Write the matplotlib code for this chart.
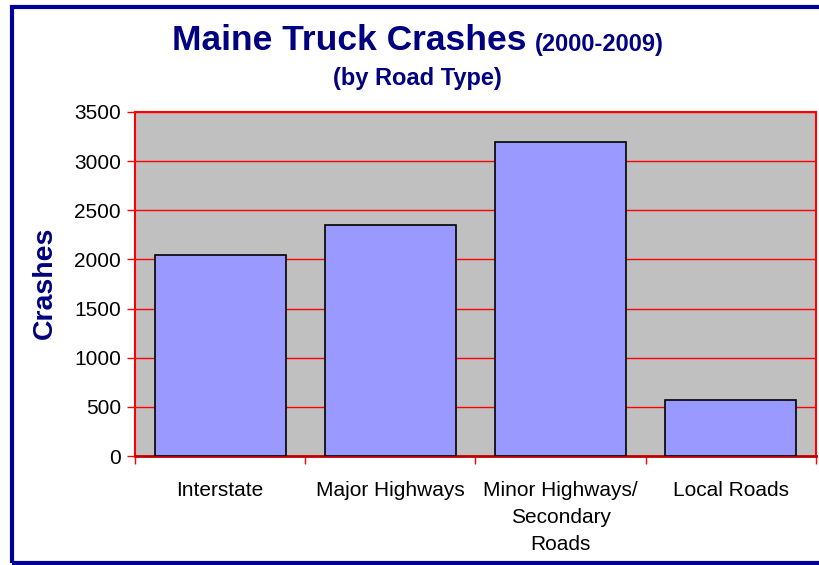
import matplotlib
matplotlib.use("Agg")
import matplotlib.pyplot as plt
from matplotlib.patches import Rectangle
import numpy as np

categories = ["Interstate", "Major Highways", "Minor Highways/\nSecondary\nRoads", "Local Roads"]
crashes = [2045, 2355, 3190, 565]
yticks = [0, 500, 1000, 1500, 2000, 2500, 3000, 3500]

plt.rcParams['font.family'] = ['Liberation Sans', 'DejaVu Sans']
W, H = 820, 565
fig = plt.figure(figsize=(W/100, H/100), dpi=100)
ax = fig.add_axes([135/W, 1-456/H, (816-135)/W, (456-112)/H])

navy = "#000080"
red = "#FF0000"
ax.set_facecolor("#C0C0C0")
x = np.arange(len(categories))
ax.bar(x, crashes, width=0.77, color="#9999FF", edgecolor="black", linewidth=1.2, zorder=3)
ax.set_xlim(-0.5, len(categories)-0.5)
ax.set_ylim(0, 3500)
ax.set_yticks(yticks)
ax.set_yticklabels([str(v) for v in yticks], fontsize=15)
ax.yaxis.grid(True, color=red, linewidth=1.0, zorder=1)
ax.set_axisbelow(True)

ax.set_xticks(x)
ax.set_xticklabels(categories, fontsize=15, linespacing=1.52, va="top")
ax.tick_params(axis='x', length=0, pad=18)
ax.set_xticks(np.arange(len(categories)+1)-0.5, minor=True)
ax.tick_params(axis='x', which='minor', length=6, color=red, width=1)
ax.tick_params(axis='y', length=6, color=red, width=1, pad=4)

for s in ['left', 'top', 'right']:
    ax.spines[s].set_color(red)
    ax.spines[s].set_linewidth(1.5)
ax.spines['bottom'].set_color("#C00000")
ax.spines['bottom'].set_linewidth(2)

fig.text(45/W, 1-283/H, "Crashes", fontsize=20.5, fontweight='bold', color=navy,
         rotation=90, ha='center', va='center')

fig.text(527/W, 1-41/H, "Maine Truck Crashes", fontsize=25.5, fontweight='bold', color=navy,
         ha='right', va='center')
fig.text(535/W, 1-45/H, "(2000-2009)", fontsize=17, fontweight='bold', color=navy,
         ha='left', va='center')
fig.text(417/W, 1-78/H, "(by Road Type)", fontsize=17, fontweight='bold', color=navy,
         ha='center', va='center')

fig.patches.append(Rectangle((12/W, 1-563/H), 1.2, (563-7)/H, transform=fig.transFigure,
                             fill=False, edgecolor="#000099", linewidth=3, zorder=10))

fig.savefig("out.png", dpi=100)
